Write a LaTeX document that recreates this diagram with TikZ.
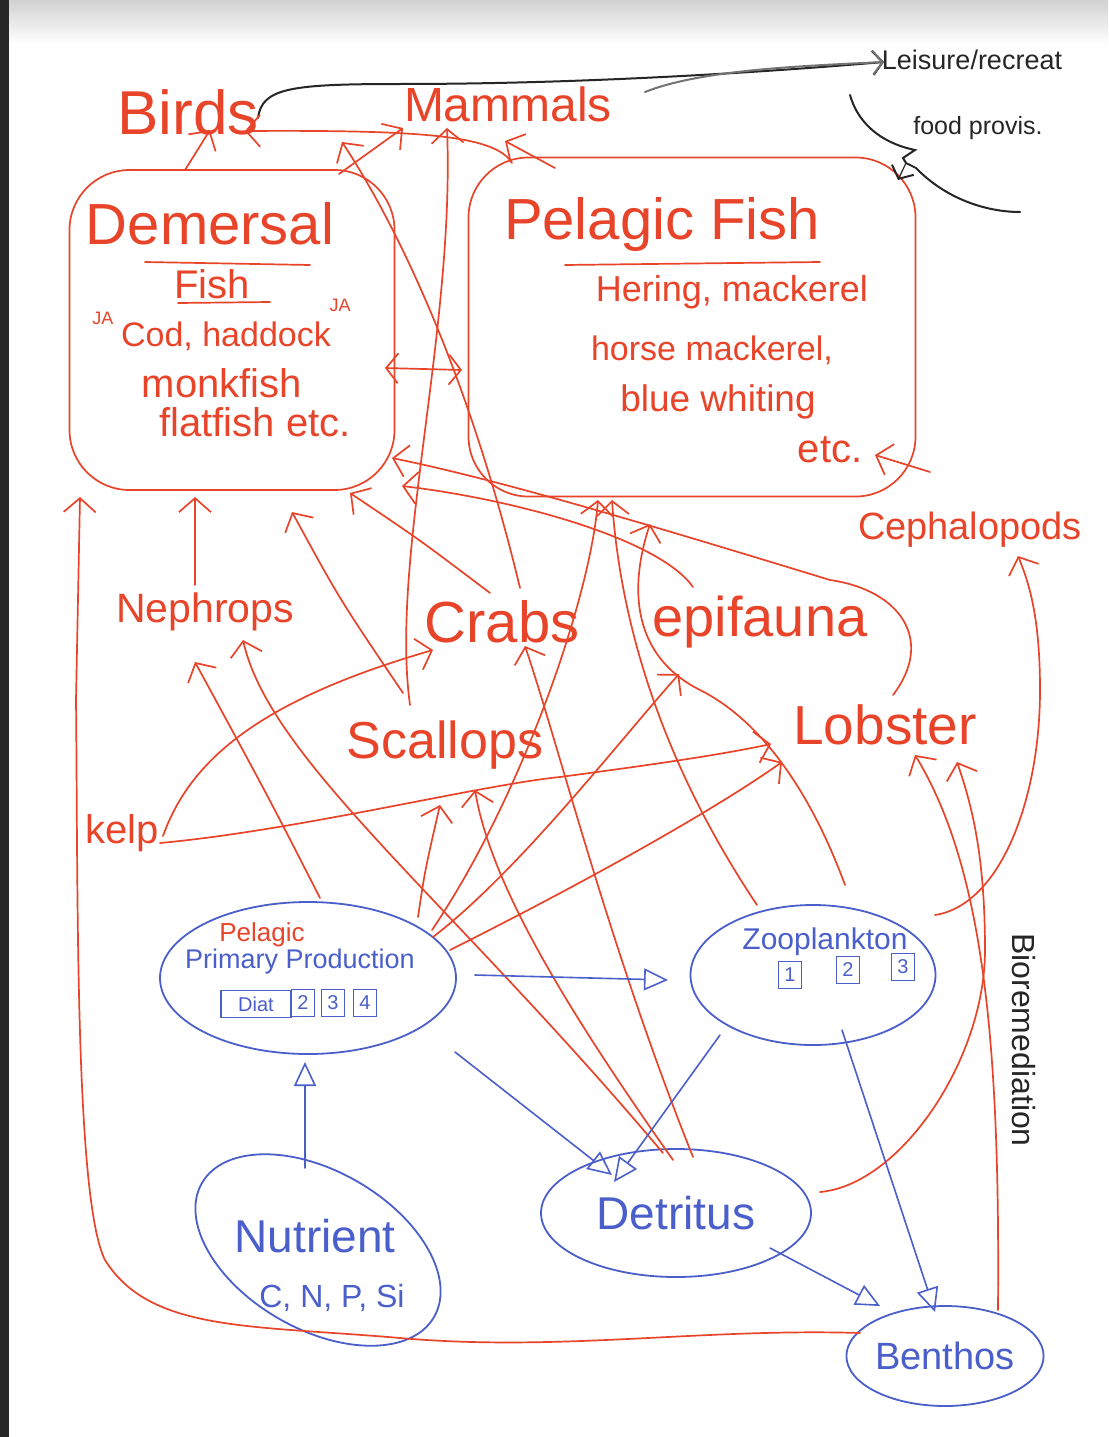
\documentclass[tikz,border=0pt]{standalone}
\usepackage{fontspec}
\setmainfont{Liberation Sans}
\usetikzlibrary{arrows.meta,shapes.geometric,calc}
\definecolor{pen}{HTML}{E8442A}
\definecolor{bpen}{HTML}{4B5FCB}
\definecolor{kpen}{HTML}{262626}
\newcommand\fsz[1]{\fontsize{#1}{#1}\selectfont}
\begin{document}
\begin{tikzpicture}[x=1pt,y=-1pt,
 rtext/.style={text=pen, inner sep=0pt},
 btext/.style={text=bpen, inner sep=0pt},
 ktext/.style={text=kpen, inner sep=0pt},
 rline/.style={draw=pen, line width=1.7pt, line cap=round},
 rarr/.style={rline, -{Straight Barb[length=14pt,width=32pt,line width=1.7pt]}},
 rdbl/.style={rline, {Straight Barb[length=12pt,width=30pt,line width=1.7pt]}-{Straight Barb[length=12pt,width=30pt,line width=1.7pt]}},
 bline/.style={draw=bpen, line width=1.6pt, line cap=round},
 barr/.style={bline, -{Triangle[open,length=24pt,width=22pt,line width=1.6pt]}},
 kline/.style={draw=kpen, line width=2pt, line cap=round},
 karr/.style={kline, -{Straight Barb[length=10pt,width=24pt,line width=2pt]}},
 fishbox/.style={draw=pen, line width=1.7pt, rounded corners=60pt},
 blob/.style={draw=bpen, line width=1.8pt, ellipse, inner sep=0pt},
 sqbox/.style={draw=bpen, line width=1.3pt, text=bpen, inner sep=2pt, minimum height=27pt, minimum width=23pt}
]
\useasboundingbox (0,0) rectangle (1108,1437);
% paper
\fill[white] (0,0) rectangle (1108,1437);
\shade[top color=black!18, bottom color=white] (0,0) rectangle (1108,44);
\fill[black!85] (0,0) rectangle (9,1437);

% ---------- red nodes ----------
\node[rtext,font=\fsz{62}] (birds) at (188,112) {Birds};
\node[rtext,font=\fsz{48}] (mammals) at (508,104) {Mammals};
\node[fishbox, minimum width=325pt, minimum height=320pt] (dem) at (232,330) {};
\node[fishbox, minimum width=447pt, minimum height=339pt] (pel) at (692,327) {};
\node[rtext,font=\fsz{58}] (demT) at (210,224) {Demersal};
\draw[rline] (145,262) -- (310,265);
\node[rtext,font=\fsz{40}] (demF) at (212,284) {Fish};
\draw[rline] (178,303) -- (270,302);
\node[rtext,font=\fsz{18}] (ja1) at (103,318) {JA};
\node[rtext,font=\fsz{34}] (cod) at (226,336) {Cod, haddock};
\node[rtext,font=\fsz{18}] (ja2) at (340,305) {JA};
\node[rtext,font=\fsz{40}] (monk) at (222,383) {monkfish};
\node[rtext,font=\fsz{40}] (flat) at (255,422) {flatfish etc.};

\node[rtext,font=\fsz{58}] (pelT) at (662,225) {Pelagic Fish};
\draw[rline] (565,265) -- (820,262);
\node[rtext,font=\fsz{36}] (her) at (732,292) {Hering, mackerel};
\node[rtext,font=\fsz{34}] (horse) at (712,350) {horse mackerel,};
\node[rtext,font=\fsz{37}] (blue) at (718,402) {blue whiting};
\node[rtext,font=\fsz{40}] (etc) at (830,450) {etc.};

\node[rtext,font=\fsz{38}] (ceph) at (970,530) {Cephalopods};
\node[rtext,font=\fsz{41}] (neph) at (205,612) {Nephrops};
\node[rtext,font=\fsz{58}] (crabs) at (502,622) {Crabs};
\node[rtext,font=\fsz{56}] (epi) at (760,622) {epifauna};
\node[rtext,font=\fsz{52}] (scal) at (445,745) {Scallops};
\node[rtext,font=\fsz{55}] (lob) at (885,725) {Lobster};
\node[rtext,font=\fsz{40}] (kelp) at (122,833) {kelp};

% ---------- blue nodes ----------
\node[blob, minimum width=296pt, minimum height=152pt] (ppp) at (308,978) {};
\node[rtext,font=\fsz{26}] (pelag) at (262,935) {Pelagic};
\node[btext,font=\fsz{27}] (pppT) at (300,962) {Primary Production};
\node[sqbox,font=\fsz{20}, minimum width=70pt] (pb1) at (256,1004) {Diat};
\node[sqbox,font=\fsz{20}] (pb2) at (303,1003) {2};
\node[sqbox,font=\fsz{20}] (pb3) at (333,1003) {3};
\node[sqbox,font=\fsz{20}] (pb4) at (365,1003) {4};

\node[blob, minimum width=245pt, minimum height=140pt] (zoo) at (813,975) {};
\node[btext,font=\fsz{30}] (zooT) at (825,942) {Zooplankton};
\node[sqbox,font=\fsz{20}] (zb1) at (790,975) {1};
\node[sqbox,font=\fsz{20}] (zb2) at (848,970) {2};
\node[sqbox,font=\fsz{20}] (zb3) at (903,967) {3};

\node[blob, minimum width=268pt, minimum height=158pt, rotate=-30] (nut) at (318,1250) {};
\node[btext,font=\fsz{46}] (nutT) at (315,1236) {Nutrient};
\node[btext,font=\fsz{32}] (nutS) at (332,1298) {C, N, P, Si};

\node[blob, minimum width=270pt, minimum height=128pt, text=bpen, font=\fsz{46}] (det) at (676,1213) {Detritus};
\node[blob, minimum width=175pt, minimum height=100pt, text=bpen, font=\fsz{38}] (ben) at (945,1356) {Benthos};

% ---------- black nodes ----------
\node[ktext,font=\fsz{27}] (leis) at (972,60) {Leisure/recreat};
\node[ktext,font=\fsz{25}] (food) at (978,128) {food provis.};
\node[ktext,font=\fsz{32},rotate=-90] (bio) at (1024,1040) {Bioremediation};

% ---------- attach points ----------
\coordinate (birdsS) at (210,130);
\coordinate (birdsE) at (245,131);
\coordinate (birdsNE) at (258,118);
\coordinate (mamSW) at (403,128);
\coordinate (mamSW2) at (342,142);
\coordinate (mamS) at (447,128);
\coordinate (mamSE) at (505,141);
\coordinate (mamE) at (645,92);
\coordinate (leisW) at (884,62);
\coordinate (demN1) at (185,170);
\coordinate (demN2) at (339,174);
\coordinate (demE1) at (385,368);
\coordinate (demE2) at (392,458);
\coordinate (demE3) at (402,486);
\coordinate (demS1) at (80,497);
\coordinate (demS2) at (195,497);
\coordinate (demS3) at (292,512);
\coordinate (demS4) at (350,493);
\coordinate (pelN1) at (512,163);
\coordinate (pelN2) at (555,168);
\coordinate (pelW) at (462,370);
\coordinate (pelE) at (875,455);
\coordinate (pelNE) at (898,180);
\coordinate (pelS1) at (598,500);
\coordinate (pelS2) at (612,500);
\coordinate (pelS3) at (650,524);
\coordinate (nephN) at (195,585);
\coordinate (nephS1) at (195,662);
\coordinate (nephS2) at (243,640);
\coordinate (crabsN1) at (520,588);
\coordinate (crabsN2) at (490,593);
\coordinate (crabsS) at (525,646);
\coordinate (crabsSW) at (433,650);
\coordinate (epiNW) at (693,587);
\coordinate (epiS) at (679,674);
\coordinate (scalN1) at (410,705);
\coordinate (scalN2) at (403,693);
\coordinate (scalS1) at (440,805);
\coordinate (scalS2) at (475,790);
\coordinate (lobW1) at (771,744);
\coordinate (lobW2) at (782,762);
\coordinate (lobN) at (893,695);
\coordinate (lobS1) at (915,755);
\coordinate (lobS2) at (957,762);
\coordinate (kelpE1) at (163,836);
\coordinate (kelpE2) at (160,843);
\coordinate (cephS) at (1018,556);
\coordinate (cephW) at (930,472);
\coordinate (pppNE1) at (432,930);
\coordinate (pppNE2) at (433,937);
\coordinate (pppNE3) at (450,950);
\coordinate (pppN1) at (418,917);
\coordinate (pppN2) at (320,898);
\coordinate (pppE) at (475,975);
\coordinate (pppSE) at (455,1052);
\coordinate (pppS) at (305,1062);
\coordinate (zooN1) at (845,885);
\coordinate (zooN2) at (757,905);
\coordinate (zooNE) at (935,915);
\coordinate (zooW) at (668,980);
\coordinate (zooSW) at (720,1035);
\coordinate (zooS) at (842,1030);
\coordinate (detN1) at (663,1153);
\coordinate (detN2) at (673,1160);
\coordinate (detN3) at (693,1157);
\coordinate (detNW1) at (612,1175);
\coordinate (detNW2) at (614,1182);
\coordinate (detE) at (820,1192);
\coordinate (detSE) at (770,1248);
\coordinate (nutN) at (305,1168);
\coordinate (benW) at (860,1333);
\coordinate (benE) at (998,1310);
\coordinate (benNW) at (880,1306);
\coordinate (benN) at (935,1312);
\coordinate (foodA) at (850,95);
\coordinate (foodB) at (1020,212);
\coordinate (foodZ) at (906,163);

% ---------- black connectors ----------
\draw[karr] (birdsNE) .. controls (262,88) and (290,84) .. (400,84)
  .. controls (600,84) and (790,70) .. (leisW);
\draw[karr, draw=black!55] (mamE) .. controls (700,70) and (800,66) .. (leisW);
\draw[kline] (foodA) .. controls (860,130) and (890,145) .. (915,150)
  -- (903,158) -- (foodZ) -- (916,168) .. controls (945,198) and (985,212) .. (foodB);
\draw[karr, line width=1.2pt] (foodZ) -- (pelNE);

% ---------- red connectors ----------
\draw[rarr] (demN1) -- (birdsS);
\draw[rarr] (pelN1) .. controls (495,135) and (420,130) .. (birdsE);
\draw[rarr] (pelN2) -- (mamSE);
\draw[rarr] (demN2) -- (mamSW);
\draw[rarr] (crabsN1) .. controls (470,380) and (400,230) .. (mamSW2);
\draw[rarr] (scalN1) .. controls (390,560) and (455,330) .. (mamS);
\draw[rdbl] (demE1) -- (pelW);
\draw[rarr] (benW) .. controls (700,1328) and (560,1352) .. (400,1338)
  .. controls (250,1325) and (150,1332) .. (105,1260)
  .. controls (75,1200) and (78,900) .. (76,700) -- (demS1);
\draw[rarr] (nephN) -- (demS2);
\draw[rarr] (scalN2) .. controls (340,600) .. (demS3);
\draw[rarr] (crabsN2) .. controls (420,540) .. (demS4);
\draw[rarr] (epiNW) .. controls (660,540) and (520,500) .. (demE3);
\draw[rarr] (lobN) .. controls (935,640) and (900,590) .. (830,580)
  .. controls (650,525) and (500,480) .. (demE2);
\draw[rarr] (cephW) -- (pelE);
\draw[rarr] (pppNE1) .. controls (520,800) and (590,600) .. (pelS1);
\draw[rarr] (zooN1) .. controls (810,790) and (760,720) .. (700,690)
  .. controls (640,660) and (625,600) .. (pelS3);
\draw[rarr] (zooN2) .. controls (660,760) and (620,620) .. (pelS2);
\draw[rarr] (zooNE) .. controls (1000,905) and (1040,800) .. (1040,690)
  .. controls (1040,620) and (1030,585) .. (cephS);
\draw[rarr] (detE) .. controls (900,1185) and (985,1060) .. (985,950)
  .. controls (985,850) and (970,800) .. (lobS2);
\draw[rarr] (benE) .. controls (1000,1050) and (985,870) .. (lobS1);
\draw[rarr] (kelpE1) .. controls (190,760) and (260,700) .. (crabsSW);
\draw[rarr] (kelpE2) .. controls (300,830) and (480,785) .. (560,777)
  .. controls (650,765) and (720,755) .. (lobW1);
\draw[rarr] (pppNE3) .. controls (550,900) and (700,820) .. (lobW2);
\draw[rarr] (pppNE2) .. controls (520,870) and (620,740) .. (epiS);
\draw[rarr] (pppN1) .. controls (425,870) .. (scalS1);
\draw[rarr] (pppN2) .. controls (270,800) .. (nephS1);
\draw[rarr] (detN1) .. controls (450,900) and (270,760) .. (nephS2);
\draw[rarr] (detN2) .. controls (560,1000) and (490,880) .. (scalS2);
\draw[rarr] (detN3) .. controls (610,950) and (560,750) .. (crabsS);

% ---------- blue connectors ----------
\draw[barr] (pppE) -- (zooW);
\draw[barr] (nutN) -- (pppS);
\draw[barr] (pppSE) -- (detNW1);
\draw[barr] (zooSW) -- (detNW2);
\draw[barr] (detSE) -- (benNW);
\draw[barr] (zooS) -- (benN);
\end{tikzpicture}
\end{document}
